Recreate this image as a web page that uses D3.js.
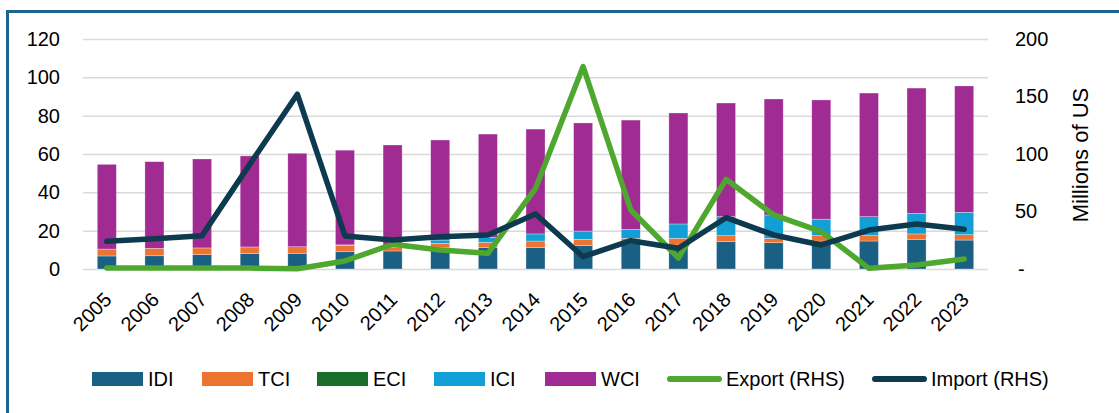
<!DOCTYPE html>
<html>
<head>
<meta charset="utf-8">
<script src="https://cdn.jsdelivr.net/npm/d3@7"></script>
<style>
  html, body { margin: 0; padding: 0; background: #fff; }
  svg text { font-family: "Liberation Sans", Arial, sans-serif; fill: #000; }
</style>
</head>
<body>
<svg id="chart" width="1119" height="413"></svg>
<script>
const years = ["2005","2006","2007","2008","2009","2010","2011","2012","2013","2014","2015","2016","2017","2018","2019","2020","2021","2022","2023"];
const IDI = [6.8, 6.9, 7.5, 8.0, 8.2, 9.0, 9.4, 11.1, 11.1, 11.3, 12.2, 13.5, 12.5, 14.3, 13.7, 14.6, 14.6, 15.5, 15.1];
const TCI = [3.6, 3.9, 3.5, 3.5, 3.4, 3.3, 2.0, 2.3, 2.8, 3.3, 3.3, 2.5, 3.5, 3.1, 2.3, 2.8, 2.8, 2.8, 2.8];
const ECI = [0, 0, 0, 0, 0, 0, 0, 0, 0, 0, 0, 0, 0, 0, 0, 0, 0, 0, 0];
const ICI = [0, 0, 0, 0, 0, 0.3, 0.8, 1.7, 2.6, 3.7, 4.3, 4.7, 7.5, 9.9, 12.2, 8.6, 9.9, 10.7, 11.7];
const WCI = [44.2, 45.2, 46.4, 47.5, 48.8, 49.4, 52.5, 52.2, 53.9, 54.7, 56.4, 57.0, 57.9, 59.3, 60.5, 62.2, 64.5, 65.4, 65.9];
const exportRHS = [0.8, 0.8, 0.8, 0.8, 0.2, 7, 21.5, 16.5, 13.6, 70, 176, 51.3, 9.6, 78, 47, 32.5, 0.6, 3.5, 8.7];
const importRHS = [24.1, 26.4, 29, 91, 152, 28.7, 25.2, 28, 29.5, 47.8, 10.7, 24.6, 18, 44.6, 29.6, 20.9, 33.9, 39.1, 34.5];
const leftTicks = [0, 20, 40, 60, 80, 100, 120];
const rightTicks = [0, 50, 100, 150, 200];
const rightTickLabels = ["-", "50", "100", "150", "200"];
const seriesNames = ["IDI", "TCI", "ECI", "ICI", "WCI"];
const seriesValues = [IDI, TCI, ECI, ICI, WCI];
const colors = {IDI: "#1a5f84", TCI: "#ed7330", ECI: "#1b6e29", ICI: "#129fd6", WCI: "#a02b93", Export: "#4ea72e", Import: "#0e3a50"};

const svg = d3.select("#chart");
const font = "Liberation Sans, Arial, sans-serif";

// frame
svg.append("rect").attr("x", 7.5).attr("y", 11.5).attr("width", 1300).attr("height", 600)
  .attr("fill", "none").attr("stroke", "#1f6391").attr("stroke-width", 3);

const x = d3.scaleBand().domain(years).range([83, 988]).paddingInner(0.6).paddingOuter(0.3);
const yL = d3.scaleLinear().domain([0, 120]).range([269, 39]);
const yR = d3.scaleLinear().domain([0, 200]).range([269, 39]);

// gridlines
const gridAxis = d3.axisLeft(yL).tickValues(leftTicks).tickSize(-(988 - 83)).tickFormat("");
const g = svg.append("g").attr("transform", "translate(83,0)").call(gridAxis);
g.select(".domain").remove();
g.selectAll("line").attr("stroke", "#d9d9d9").attr("stroke-width", 1.5);

// left axis labels
const la = svg.append("g").attr("transform", "translate(60,0)")
  .call(d3.axisLeft(yL).tickValues(leftTicks).tickSize(0).tickPadding(0));
la.select(".domain").remove();
la.selectAll("text").attr("font-size", 20).attr("font-family", font).attr("fill", "#000");

// right axis labels
const ra = svg.append("g").attr("transform", "translate(1015,0)")
  .call(d3.axisRight(yR).tickValues(rightTicks).tickSize(0).tickPadding(0)
    .tickFormat((d, i) => rightTickLabels[i]));
ra.select(".domain").remove();
ra.selectAll("text").attr("font-size", 20).attr("font-family", font).attr("fill", "#000")
  .attr("dx", (d) => d === 0 ? 3 : 0);

svg.append("text").attr("transform", "translate(1088,155) rotate(-90)")
  .attr("text-anchor", "middle").attr("font-size", 22).text("Millions of US");

// stacked bars
const table = years.map((yr, i) => {
  const o = {year: yr};
  seriesNames.forEach((s, k) => o[s] = seriesValues[k][i]);
  return o;
});
const stack = d3.stack().keys(seriesNames)(table);
svg.append("g").selectAll("g").data(stack).join("g")
  .attr("fill", d => colors[d.key])
  .selectAll("rect").data(d => d).join("rect")
  .attr("x", d => x(d.data.year))
  .attr("width", x.bandwidth())
  .attr("y", d => yL(d[1]))
  .attr("height", d => Math.max(0, yL(d[0]) - yL(d[1])))
  .attr("stroke", "#ffffff").attr("stroke-opacity", 0.5).attr("stroke-width", 0.6);

// lines
const cx = yr => x(yr) + x.bandwidth() / 2;
const line = d3.line().x((d, i) => cx(years[i])).y(d => yR(d));
svg.append("path").datum(exportRHS).attr("d", line).attr("fill", "none")
  .attr("stroke", colors.Export).attr("stroke-width", 5.5).attr("stroke-linejoin", "round").attr("stroke-linecap", "round");
svg.append("path").datum(importRHS).attr("d", line).attr("fill", "none")
  .attr("stroke", colors.Import).attr("stroke-width", 5.5).attr("stroke-linejoin", "round").attr("stroke-linecap", "round");

// x labels
svg.append("g").selectAll("text").data(years).join("text")
  .attr("transform", d => `translate(${cx(d) + 6},301) rotate(-45)`)
  .attr("text-anchor", "end").attr("font-size", 20).text(d => d);

// legend
const legendItems = [
  {name: "IDI", type: "rect", color: colors.IDI, x: 92},
  {name: "TCI", type: "rect", color: colors.TCI, x: 202},
  {name: "ECI", type: "rect", color: colors.ECI, x: 317},
  {name: "ICI", type: "rect", color: colors.ICI, x: 434},
  {name: "WCI", type: "rect", color: colors.WCI, x: 545},
  {name: "Export (RHS)", type: "line", color: colors.Export, x: 667},
  {name: "Import (RHS)", type: "line", color: colors.Import, x: 872}
];
const ly = 379;
const lg = svg.append("g");
legendItems.forEach(it => {
  let tx;
  if (it.type === "rect") {
    lg.append("rect").attr("x", it.x).attr("y", ly - 7).attr("width", 51).attr("height", 14).attr("fill", it.color);
    tx = it.x + 56;
  } else {
    lg.append("line").attr("x1", it.x + 3).attr("x2", it.x + 52).attr("y1", ly).attr("y2", ly)
      .attr("stroke", it.color).attr("stroke-width", 6).attr("stroke-linecap", "round");
    tx = it.x + 59;
  }
  lg.append("text").attr("x", tx).attr("y", ly + 7).attr("font-size", 20).text(it.name);
});
</script>
</body>
</html>
